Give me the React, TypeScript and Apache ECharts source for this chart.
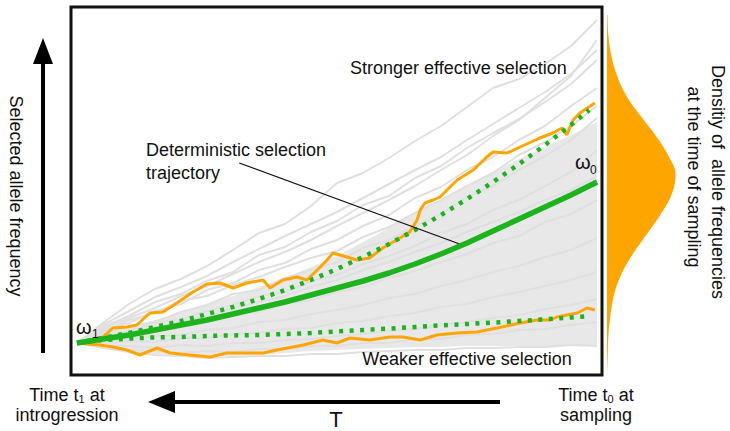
import React, { useEffect, useRef } from "react";
import * as echarts from "echarts";

// time axis (generations from introgression, 0..100) and selected allele frequency (arbitrary units, 0..92)
const T = [0, 5, 10, 15, 20, 25, 30, 35, 40, 45, 50, 55, 60, 65, 70, 75, 80, 85, 90, 95, 100];
const dottedT = [0, 5, 10, 15, 20, 25, 30, 35, 40, 45, 50, 55, 60, 65, 70, 75, 80, 85, 90, 95, 98.5];

const deterministic = [8, 9, 10, 11.25, 12.5, 13.75, 15.25, 16.75, 18.25, 20, 21.75, 23.5, 25.5, 27.75, 30.25, 33, 36, 39, 42, 45, 48.25];
const strongerDotted = [8, 9.25, 10.5, 12, 13.5, 15.25, 17, 19, 21.25, 23.75, 26.5, 29.5, 32.75, 36.25, 40, 44, 48.25, 52.75, 57.5, 62.5, 66.25];
const weakerDotted = [8, 8.75, 9.1, 9.4, 9.5, 9.75, 9.9, 10, 10.25, 10.5, 10.9, 11.25, 11.6, 12, 12.4, 12.75, 13.1, 13.5, 13.9, 14.4, 14.75];

const strongT = [0, 2.5, 5, 6.9, 9.6, 11.5, 14, 16.5, 19.2, 22.3, 25, 27.5, 30, 32.7, 35.8, 37.1, 39.6, 42.3, 44.2, 46.2, 48.1, 49.2, 51.9, 53.8, 56.3, 58.8, 62.1, 64, 65.4, 66, 66.9, 68.5, 69.8, 73.1, 76.2, 78.8, 80, 82.7, 85.2, 89, 91.5, 93.3, 94.2, 95.4, 96.7, 99.6];
const strongV = [8, 8.75, 9.5, 11.75, 12, 12.5, 15.5, 15.75, 18, 20.75, 22.75, 23, 21.75, 23, 23.75, 21.75, 23.75, 24.5, 23.75, 26.25, 28.75, 30.5, 29.5, 28.75, 29.25, 31.75, 34.25, 35.75, 38.75, 41.25, 43, 43.75, 44.5, 48.75, 51.25, 54.5, 55.75, 55.5, 57, 59.25, 60.5, 61.75, 60, 63.75, 65.5, 68];

const weakT = [0, 4.4, 6.9, 9.6, 12.1, 15.4, 17.9, 21.7, 25.6, 28.8, 32.7, 35.8, 38.5, 43.5, 47.3, 50, 52.5, 56.3, 60.2, 62.7, 66, 69.2, 73.1, 76.9, 80.8, 85.2, 88.5, 91, 92.3, 96.2, 98.1, 99.6];
const weakV = [8, 7.5, 7, 6.25, 5, 6.75, 5.5, 5, 4.5, 5.5, 5.5, 5.5, 6.25, 7.5, 8.75, 8, 9.25, 8.75, 9.5, 9.5, 8.75, 10, 10.5, 10.75, 11.75, 13, 13.75, 13.75, 14.5, 15.5, 16.75, 16.25];

// extent of the dense cloud of simulated trajectories
const bandLower = [7.75, 6.75, 5.75, 5.25, 5, 4.75, 4.75, 5, 5.5, 6, 6.25, 6.5, 6.75, 7, 7, 7.25, 7.25, 7.25, 7.25, 7.25, 7.25];
const bandUpper = [8.25, 10.25, 12, 13.75, 15.5, 17.75, 19.75, 22, 24.25, 27, 29.75, 33.25, 36.75, 40.25, 43.75, 47.5, 50.75, 54, 57, 60, 63.25];

// individual simulated trajectories (grey)
const grayTrajectories = [
  [8, 13, 17.75, 21.5, 24, 27.25, 31.25, 35.5, 37.75, 42.25, 48, 50.5, 54.25, 58.5, 62.25, 67, 71.75, 74, 77.75, 82.25, 88.75],
  [8, 12.5, 16, 19.5, 22, 24.75, 28.25, 31.5, 34.75, 37.75, 40.75, 44.25, 47.75, 51.25, 54.5, 58.75, 62.75, 66.75, 70.75, 75.25, 81.25],
  [8, 12, 14.75, 18.25, 20.25, 23.5, 25.75, 30, 32, 35.75, 38.5, 42.5, 44.75, 49.25, 52.25, 56.75, 60.5, 64, 68.25, 72.75, 78.75],
  [8, 11.25, 13, 16, 17.75, 21.25, 23, 26.25, 28, 31.5, 33.75, 37.25, 40, 44.25, 47, 51.25, 54.5, 58.75, 62.25, 67.25, 71.75],
  [8, 10.75, 13.75, 15.5, 18.5, 19.75, 22.5, 24.5, 27, 29.25, 31, 34.5, 37, 40.5, 43.75, 47.25, 50.5, 55, 58.25, 62.25, 67.25],
  [8, 10.25, 12.25, 13.25, 15.75, 17.5, 20.25, 21.25, 24.25, 26.25, 28.25, 31.75, 33.75, 37.25, 40.25, 44.5, 47.25, 51.25, 54.75, 58.75, 64.25],
  [8, 9.75, 11, 13, 14, 16, 17.5, 19.75, 20.75, 23.5, 25, 27.75, 29.75, 32.25, 35.5, 37.75, 41.25, 43.75, 47.25, 50.75, 56.25],
  [8, 9, 10.25, 11, 12.5, 13.25, 15, 15.75, 17.75, 18.75, 20.75, 22, 24.25, 26, 28.25, 30.25, 33, 34.75, 38.25, 40.25, 43.75],
  [8, 8.5, 9, 9.75, 10, 11.25, 11.75, 13.25, 13.75, 15.25, 16.25, 17.5, 19.25, 20.25, 22.25, 23.75, 25.75, 27.25, 29.5, 31.25, 34.25],
  [8, 7.75, 8.5, 8.25, 9.25, 9.25, 10.25, 10.5, 11.5, 11.75, 13, 13.5, 14.75, 15.5, 17, 17.75, 19.5, 20.75, 22.25, 23.75, 25.75],
  [8, 7.25, 7.25, 6.75, 7.5, 7.25, 8, 8, 8.75, 9, 9.75, 10.25, 11, 11.5, 12.5, 13.25, 14.25, 15, 16.5, 17.5, 19],
  [8, 7, 6.25, 6, 5.5, 6, 5.75, 6.5, 6.5, 7.25, 7.25, 8, 8, 9, 9, 10, 10.25, 11.25, 11.5, 12.5, 13.25],
  [8, 6.75, 5.75, 5, 4.75, 4.25, 4.5, 4.75, 4.75, 5.25, 5.25, 5.75, 6, 6.25, 6.25, 6.75, 6.75, 7, 7, 7.5, 7.25],
  [8, 9.25, 10.75, 11.75, 13.5, 14.75, 16.75, 18.25, 19.75, 22, 23.75, 26.25, 28.25, 30.75, 33, 35.75, 38.25, 40.75, 43.75, 46.25, 49.75],
  [8, 11.5, 14.25, 16.75, 19.75, 22.25, 25.25, 28.25, 30.75, 33.75, 37.25, 40.5, 43.75, 47.25, 51.25, 55, 59.75, 63.75, 69.25, 74.75, 83.75],
];

// density of allele frequencies at sampling (frequency bins, density in % of peak scale)
const densityBins = ["0", "5", "10", "15", "20", "25", "30", "35", "40", "45", "50", "55", "60", "65", "70", "75", "80", "85", "90"];
const densityValues = [0, 1.1, 2.1, 5, 10, 20, 36, 56, 76, 92, 98, 87, 69, 47, 27, 14, 6, 2, 0.7];

// annotation pointer (from label to the deterministic curve), in data units
const pointerFrom = [31.2, 53];
const pointerTo = [74.1, 32.5];

const FONT = "'Liberation Sans', Arial, Helvetica, sans-serif";
const GREEN = "#1cb31c";
const ORANGE = "#ffa500";
const GRAY = "#e0e0e0";

const pairs = (xs: number[], ys: number[]) => xs.map((x, i) => [x, ys[i]]);

export default function App() {
  const ref = useRef<HTMLDivElement>(null);

  useEffect(() => {
    document.body.style.margin = "0";
    if (!ref.current) return;
    const chart = echarts.init(ref.current, null, { renderer: "svg" });

    const txt = (
      text: string,
      x: number,
      y: number,
      size: number,
      align: string = "left",
      rotation = 0,
      vAlign: string = "middle"
    ) => ({
      type: "text",
      x,
      y,
      rotation,
      z: 100,
      style: {
        text,
        fontSize: size,
        fontFamily: FONT,
        fill: "#111",
        align,
        verticalAlign: vAlign,
      },
    });

    const richTime = (sub: string, x: number, y: number) => ({
      type: "text",
      x,
      y,
      z: 100,
      style: {
        text: `{n|Time t}{s|${sub}}{n| at}`,
        align: "center",
        verticalAlign: "middle",
        fontFamily: FONT,
        fill: "#111",
        rich: {
          n: { fontSize: 18, fontFamily: FONT, fill: "#111", lineHeight: 22, verticalAlign: "bottom" },
          s: { fontSize: 11, fontFamily: FONT, fill: "#111", lineHeight: 16, verticalAlign: "bottom" },
        },
      },
    });

    const option: any = {
      animation: false,
      backgroundColor: "#fff",
      grid: [
        {
          left: 71,
          top: 7,
          width: 531,
          height: 368,
          show: true,
          borderColor: "#111",
          borderWidth: 3,
          backgroundColor: "transparent",
        },
        { left: 607, top: 15, width: 70, height: 360 },
      ],
      xAxis: [
        { type: "value", gridIndex: 0, min: -1.154, max: 100.96, show: false },
        { type: "value", gridIndex: 1, min: 0, max: 100, show: false },
      ],
      yAxis: [
        { type: "value", gridIndex: 0, min: 0, max: 92, show: false },
        { type: "category", gridIndex: 1, data: densityBins, boundaryGap: false, show: false },
      ],
      series: [
        {
          type: "custom",
          xAxisIndex: 0,
          yAxisIndex: 0,
          silent: true,
          z: 1,
          data: [[0, 0]],
          renderItem: (_params: any, api: any) => {
            const pts: number[][] = [];
            T.forEach((t, i) => pts.push(api.coord([t, bandUpper[i]])));
            for (let i = T.length - 1; i >= 0; i--) pts.push(api.coord([T[i], bandLower[i]]));
            return { type: "polygon", shape: { points: pts }, style: { fill: "#e8e8e8" } };
          },
        },
        ...grayTrajectories.map((g) => ({
          type: "line",
          xAxisIndex: 0,
          yAxisIndex: 0,
          data: pairs(T, g),
          showSymbol: false,
          symbol: "none",
          silent: true,
          z: 2,
          lineStyle: { color: GRAY, width: 2 },
        })),
        {
          type: "line",
          name: "weak",
          data: pairs(weakT, weakV),
          symbol: "none",
          silent: true,
          z: 3,
          lineStyle: { color: ORANGE, width: 3 },
        },
        {
          type: "line",
          name: "strong",
          data: pairs(strongT, strongV),
          symbol: "none",
          silent: true,
          z: 3,
          lineStyle: { color: ORANGE, width: 3 },
        },
        {
          type: "line",
          data: pairs(dottedT, strongerDotted),
          symbol: "none",
          silent: true,
          z: 4,
          lineStyle: { color: GREEN, width: 4.5, type: [4, 6.5] },
        },
        {
          type: "line",
          data: pairs(dottedT, weakerDotted),
          symbol: "none",
          silent: true,
          z: 4,
          lineStyle: { color: GREEN, width: 4.5, type: [4, 6.5] },
        },
        {
          type: "line",
          data: pairs(T, deterministic),
          symbol: "none",
          silent: true,
          z: 5,
          lineStyle: { color: GREEN, width: 5.5 },
          markLine: {
            silent: true,
            symbol: ["none", "none"],
            label: { show: false },
            lineStyle: { color: "#111", width: 1.3, type: "solid" },
            data: [[{ coord: pointerFrom }, { coord: pointerTo }]],
          },
        },
        {
          type: "line",
          xAxisIndex: 1,
          yAxisIndex: 1,
          data: densityValues,
          smooth: 0.4,
          symbol: "none",
          silent: true,
          lineStyle: { width: 0, color: ORANGE },
          areaStyle: { color: ORANGE, opacity: 1 },
        },
      ],
      graphic: [
        txt("Stronger effective selection", 350, 68, 18),
        txt("Weaker effective selection", 467, 359, 18, "center"),
        txt("Deterministic selection", 146, 150, 18),
        txt("trajectory", 146, 173, 18),
        txt("ω", 575, 162, 20),
        txt("0", 590, 170, 12),
        txt("ω", 76, 327, 20),
        txt("1", 92, 334, 12),
        txt("Selected allele frequency", 16, 196, 18, "center", -Math.PI / 2),
        txt("Densitiy of  allele frequencies", 718, 182, 18, "center", -Math.PI / 2),
        txt("at the time of sampling", 694, 177, 18, "center", -Math.PI / 2),
        richTime("1", 67, 393),
        txt("introgression", 67, 415, 18, "center"),
        richTime("0", 596, 393),
        txt("sampling", 596, 415, 18, "center"),
        txt("T", 336, 430, 22, "center", 0, "bottom"),
        {
          type: "line",
          shape: { x1: 43, y1: 353, x2: 43, y2: 58 },
          style: { stroke: "#000", lineWidth: 4 },
        },
        {
          type: "polygon",
          shape: { points: [[43, 38], [33, 64], [53, 64]] },
          style: { fill: "#000" },
        },
        {
          type: "line",
          shape: { x1: 500, y1: 402, x2: 170, y2: 402 },
          style: { stroke: "#000", lineWidth: 4 },
        },
        {
          type: "polygon",
          shape: { points: [[148, 402], [175, 391], [175, 413]] },
          style: { fill: "#000" },
        },
      ],
    };

    chart.setOption(option);
    return () => chart.dispose();
  }, []);

  return <div ref={ref} style={{ width: 730, height: 431 }} />;
}
